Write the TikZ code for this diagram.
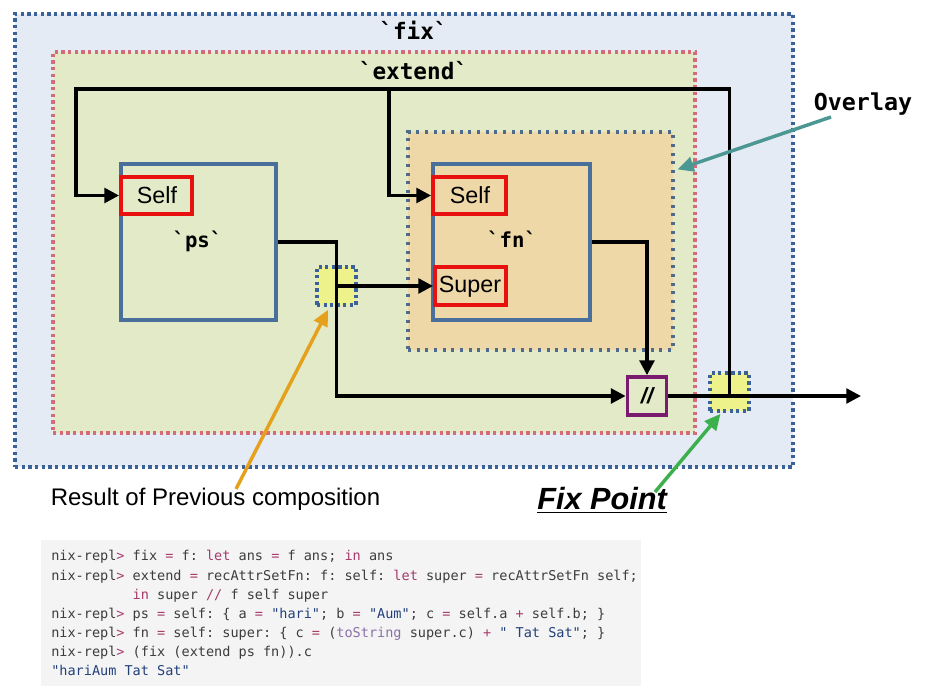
\documentclass[tikz,border=0pt]{standalone}
\usepackage{fontspec}
\setmainfont{Liberation Sans}
\setmonofont{DejaVu Sans Mono}
\usetikzlibrary{arrows.meta,fit,calc}
\definecolor{fixfill}{HTML}{E5EBF4}
\definecolor{fixdot}{HTML}{3B6199}
\definecolor{extfill}{HTML}{E2EAC7}
\definecolor{extdot}{HTML}{D46C78}
\definecolor{ovfill}{HTML}{EED8A7}
\definecolor{ovdot}{HTML}{4F6A8B}
\definecolor{boxblue}{HTML}{4A6F9A}
\definecolor{selfred}{HTML}{E8110F}
\definecolor{slashpurple}{HTML}{7B1B6F}
\definecolor{yel}{HTML}{EEF28A}
\definecolor{ovarrow}{HTML}{4A9793}
\definecolor{orangearr}{HTML}{E5A11B}
\definecolor{greenarr}{HTML}{3DB04E}
\definecolor{codebg}{HTML}{F4F4F4}
\definecolor{codetxt}{HTML}{3D3D3D}
\definecolor{codekw}{HTML}{A63B6B}
\definecolor{codestr}{HTML}{23407B}
\definecolor{codefn}{HTML}{8A70A8}
\newcommand{\ckw}[1]{\textcolor{codekw}{#1}}
\newcommand{\cstr}[1]{\textcolor{codestr}{#1}}
\newcommand{\cfn}[1]{\textcolor{codefn}{#1}}
\begin{document}
\begin{tikzpicture}[x=0.75pt,y=-0.75pt,
  fixbox/.style={draw=fixdot, fill=fixfill, line width=2.8pt, dash pattern=on 2.6pt off 2.4pt, inner sep=0pt},
  extbox/.style={draw=extdot, fill=extfill, line width=2.8pt, dash pattern=on 2.6pt off 2.4pt, inner sep=0pt},
  ovbox/.style={draw=ovdot, fill=ovfill, line width=2.3pt, dash pattern=on 2.2pt off 4.3pt, inner sep=0pt},
  fnbox/.style={draw=boxblue, line width=2.6pt, inner sep=0pt},
  slotbox/.style={draw=selfred, line width=2.9pt, inner sep=0pt},
  joinbox/.style={draw=fixdot, fill=yel, line width=2.8pt, dash pattern=on 2.5pt off 2.4pt, inner sep=0pt},
  slashbox/.style={draw=slashpurple, line width=2.8pt, inner sep=0pt},
  monolabel/.style={font=\ttfamily\bfseries\fontsize{17}{20}\selectfont, inner sep=0pt, anchor=base},
  smallmono/.style={font=\ttfamily\bfseries\fontsize{15.5}{18}\selectfont, inner sep=0pt, anchor=base},
  slottext/.style={font=\fontsize{17.5}{20}\selectfont, inner sep=0pt, anchor=base},
  conn/.style={line width=2.5pt, black},
  arr/.style={-{Triangle[length=11pt,width=11pt]}},
  carr/.style={line width=2.6pt, -{Triangle[length=12pt,width=11pt]}},
  codeline/.style={font=\ttfamily\fontsize{10.15}{12}\selectfont, text=codetxt, inner sep=0pt, anchor=base west}
]
\useasboundingbox (0,0) rectangle (925,698);
% background frames
\node[fixbox, fit={(15,14) (793,467)}] (fix) {};
\node[extbox, fit={(53,52) (695,433)}] (extend) {};
\node[ovbox, fit={(408,132) (673,350)}] (overlay) {};
\node[monolabel] (fixlbl) at (413.5,39.5) {`fix`};
\node[monolabel] (extlbl) at (413.5,80) {`extend`};
% ps
\node[fnbox, fit={(121,164) (276,320)}] (ps) {};
\node[smallmono] (pslbl) at (197.5,248) {`ps`};
\node[slotbox, fit={(121,177) (192,214)}] (psself) {};
\node[slottext] (psselft) at (157,204) {Self};
% fn
\node[fnbox, fit={(433,164) (590,320)}] (fn) {};
\node[smallmono] (fnlbl) at (512,248) {`fn`};
\node[slotbox, fit={(433,177) (506,214)}] (fnself) {};
\node[slottext] (fnselft) at (470,204) {Self};
\node[slotbox, fit={(435,267) (506,305)}] (super) {};
\node[slottext] (supert) at (470,293) {Super};
% join points
\node[joinbox, fit={(317,267) (356,305)}] (prev) {};
\node[joinbox, fit={(710,373) (749,411)}] (fixpt) {};
\node[slashbox, fit={(627.5,377) (666.5,415)}] (slash) {};
\node[font=\bfseries\itshape\fontsize{16.5}{18}\selectfont, inner sep=0pt] (slasht) at (slash.center) {//};
% connectors
\coordinate (tr) at (729.5,89);
\coordinate (tl) at (76,89);
\coordinate (tm) at (389,89);
\coordinate (out) at (861,396);
\draw[conn,arr] (fixpt.center |- slash.east) -- (tr) -- (tl) |- (psself.west);
\draw[conn,arr] (tm) |- (fnself.west);
\draw[conn,arr] (ps.east) -| (prev.center) |- (slash.west);
\draw[conn,arr] (prev.center) -- (prev.center -| super.west);
\draw[conn,arr] (fn.east) -| (slash.north);
\draw[conn,arr] (slash.east) -- (out);
% annotations
\node[font=\ttfamily\bfseries\fontsize{17.5}{20}\selectfont, inner sep=0pt, anchor=base] (ovlbl) at (863,111) {Overlay};
\coordinate (ovstart) at (831,117);
\draw[ovarrow,carr] (ovstart) -- ($(overlay.north east)+(3,39)$);
\node[font=\fontsize{18}{20}\selectfont, inner sep=0pt, anchor=base] (resultlbl) at (215.5,505) {Result of Previous composition};
\coordinate (orstart) at (236,489);
\draw[orangearr,carr] (orstart) -- ($(prev.south)+(-8.5,3)$);
\node[font=\bfseries\itshape\fontsize{23}{26}\selectfont, inner sep=0pt, anchor=base] (fixptlbl) at (602,510) {\underline{Fix Point}};
\coordinate (grstart) at (655,492);
\draw[greenarr,carr] (grstart) -- ($(fixpt.south)+(-9,1)$);
% code block
\node[fill=codebg, fit={(41,540) (641,686)}, inner sep=0pt] (code) {};
\node[codeline] (c1) at (51,561) {nix-repl\ckw{>} fix \ckw{=} f: \ckw{let} ans \ckw{=} f ans; \ckw{in} ans};
\node[codeline] (c2) at (51,580.1) {nix-repl\ckw{>} extend \ckw{=} recAttrSetFn: f: self: \ckw{let} super \ckw{=} recAttrSetFn self;};
\node[codeline] (c3) at (51,599.2) {\phantom{nix-repl>}\ \ckw{in} super \ckw{//} f self super};
\node[codeline] (c4) at (51,618.3) {nix-repl\ckw{>} ps \ckw{=} self: \{ a \ckw{=} \cstr{"hari"}; b \ckw{=} \cstr{"Aum"}; c \ckw{=} self.a \ckw{+} self.b; \}};
\node[codeline] (c5) at (51,637.4) {nix-repl\ckw{>} fn \ckw{=} self: super: \{ c \ckw{=} (\cfn{toString} super.c) \ckw{+} \cstr{" Tat Sat"}; \}};
\node[codeline] (c6) at (51,656.5) {nix-repl\ckw{>} (fix (extend ps fn)).c};
\node[codeline] (c7) at (51,675.6) {\cstr{"hariAum Tat Sat"}};
\end{tikzpicture}
\end{document}
